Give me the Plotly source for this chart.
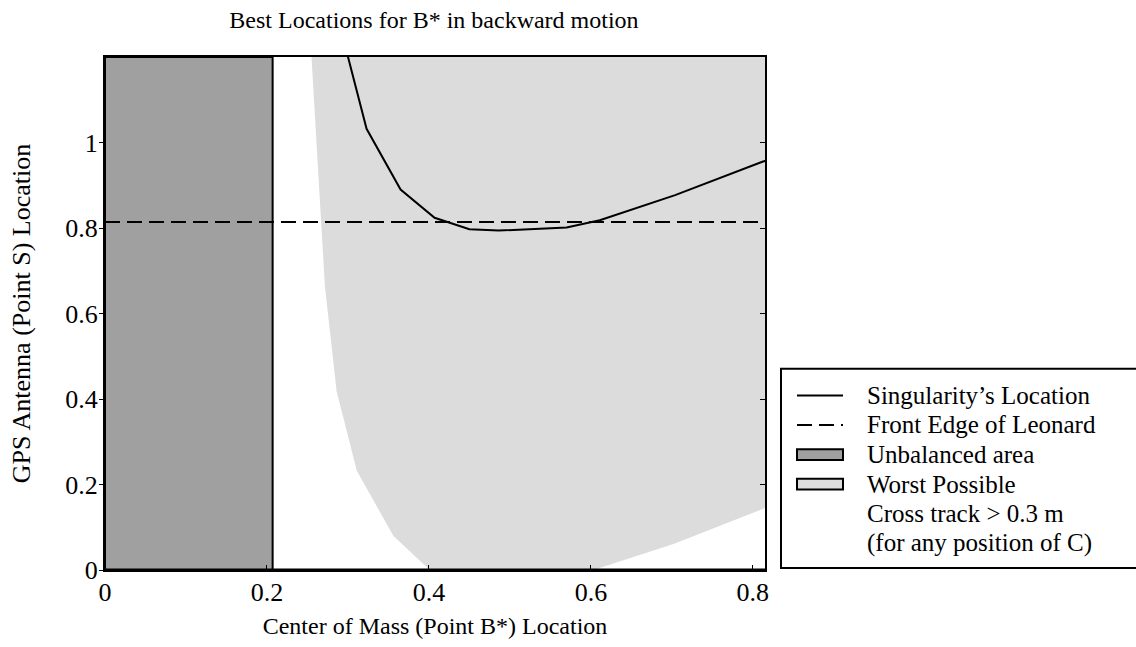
import plotly.graph_objects as go

# ---- data ----
sing_x = [0.281, 0.300, 0.323, 0.365, 0.407, 0.450, 0.486, 0.570, 0.611, 0.704, 0.813, 0.830]
sing_y = [1.340, 1.198, 1.032, 0.890, 0.824, 0.797, 0.794, 0.801, 0.818, 0.877, 0.954, 0.968]

front_edge = 0.814
x_limits = [0.0, 0.815]
y_limits = [0.0, 1.2]

unbal_x = [0.0, 0.207, 0.207, 0.0, 0.0]
unbal_y = [0.0, 0.0, 1.2, 1.2, 0.0]

worst_x = [0.255, 0.2715, 0.286, 0.311, 0.356, 0.401, 0.603, 0.702, 0.815, 0.815, 0.255]
worst_y = [1.200, 0.665, 0.418, 0.232, 0.080, 0.000, 0.000, 0.061, 0.145, 1.200, 1.200]

x_ticks = [0, 0.2, 0.4, 0.6, 0.8]
x_tick_text = ["0", "0.2", "0.4", "0.6", "0.8"]
y_ticks = [0, 0.2, 0.4, 0.6, 0.8, 1.0]
y_tick_text = ["0", "0.2", "0.4", "0.6", "0.8", "1"]

legend_labels = ["Singularity\u2019s Location", "Front Edge of Leonard", "Unbalanced area",
                 "Worst Possible", "Cross track > 0.3 m", "(for any position of C)"]

DARK = "#a0a0a0"
LIGHT = "#dcdcdc"
FONT = "Liberation Serif"

# plot-area geometry in pixels (used for the hand-drawn legend)
W, H = 1136, 647
ML, MR, MT, MB = 105, 371, 57, 70
PW, PH = W - ML - MR, H - MT - MB


def px(x):
    return (x - ML) / PW


def py(y):
    return (H - MB - y) / PH


fig = go.Figure()

fig.add_trace(go.Scatter(x=worst_x, y=worst_y, mode="lines", fill="toself",
                         fillcolor=LIGHT, line=dict(width=0, color=LIGHT),
                         showlegend=False, hoverinfo="skip", name="Worst Possible"))
fig.add_trace(go.Scatter(x=unbal_x, y=unbal_y, mode="lines", fill="toself",
                         fillcolor=DARK, line=dict(width=2, color="black"),
                         showlegend=False, hoverinfo="skip", name="Unbalanced area"))
fig.add_trace(go.Scatter(x=x_limits, y=[front_edge, front_edge], mode="lines",
                         line=dict(color="black", width=2, dash="15px,7px"),
                         showlegend=False, name="Front Edge of Leonard"))
fig.add_trace(go.Scatter(x=sing_x, y=sing_y, mode="lines",
                         line=dict(color="black", width=2),
                         showlegend=False, name="Singularity\u2019s Location"))
# empty trace so the mirrored right-hand axis (inside ticks) is drawn
fig.add_trace(go.Scatter(x=[None], y=[None], yaxis="y2", showlegend=False, hoverinfo="skip"))

# thick baseline at y=0
fig.add_shape(type="line", xref="x", yref="y", x0=x_limits[0], x1=x_limits[1],
              y0=0, y1=0, line=dict(color="black", width=3), layer="above")

# ---- legend (drawn as box, symbols and text) ----
fig.add_shape(type="rect", xref="paper", yref="paper",
              x0=px(781), x1=px(1140), y0=py(575), y1=py(373),
              line=dict(color="black", width=2), fillcolor="white", layer="above")
rows = [400, 430, 460, 490, 520, 550]
sx0, sx1 = px(797), px(843)
fig.add_shape(type="line", xref="paper", yref="paper", x0=sx0, x1=sx1,
              y0=py(rows[0]), y1=py(rows[0]), line=dict(color="black", width=2))
fig.add_shape(type="line", xref="paper", yref="paper", x0=sx0, x1=sx1,
              y0=py(rows[1]), y1=py(rows[1]), line=dict(color="black", width=2, dash="15px,7px"))
for r, col in ((rows[2], DARK), (rows[3], LIGHT)):
    fig.add_shape(type="rect", xref="paper", yref="paper", x0=sx0, x1=sx1,
                  y0=py(r + 5.5), y1=py(r - 5.5), fillcolor=col,
                  line=dict(color="black", width=2), layer="above")
for r, lab in zip(rows, legend_labels):
    fig.add_annotation(xref="paper", yref="paper", x=px(865), y=py(r), text=lab,
                       showarrow=False, xanchor="left", yanchor="middle",
                       font=dict(family=FONT, size=25, color="black"))

fig.update_layout(
    width=W, height=H,
    margin=dict(l=ML, r=MR, t=MT, b=MB),
    paper_bgcolor="white", plot_bgcolor="white",
    font=dict(family=FONT, color="black", size=24),
    title=dict(text="Best Locations for B* in backward motion", x=434 / W, xanchor="center",
               y=1 - 20 / H, yanchor="middle", font=dict(family=FONT, size=24, color="black")),
    showlegend=False,
    yaxis2=dict(overlaying="y", side="right", range=y_limits, tickvals=y_ticks,
                showticklabels=False, ticks="inside", ticklen=5, tickcolor="black",
                showline=False, showgrid=False, zeroline=False),
)
fig.update_xaxes(range=x_limits, tickvals=x_ticks, ticktext=x_tick_text,
                 showline=True, linecolor="black", linewidth=2, mirror=True,
                 ticks="inside", ticklen=5, tickcolor="black", showgrid=False, zeroline=False,
                 tickfont=dict(family=FONT, size=26), ticklabelstandoff=-2,
                 title=dict(text="Center of Mass (Point B*) Location", standoff=11,
                            font=dict(family=FONT, size=24)))
fig.layout.yaxis.update(range=y_limits, tickvals=y_ticks, ticktext=y_tick_text,
                        showline=True, linecolor="black", linewidth=2, mirror=True,
                        ticks="outside", ticklen=4, tickcolor="black", showgrid=False,
                        zeroline=False, tickfont=dict(family=FONT, size=26),
                        ticklabelstandoff=-4,
                        title=dict(text="GPS Antenna (Point S) Location", standoff=27,
                                   font=dict(family=FONT, size=26)))

fig.write_html("out.html")
